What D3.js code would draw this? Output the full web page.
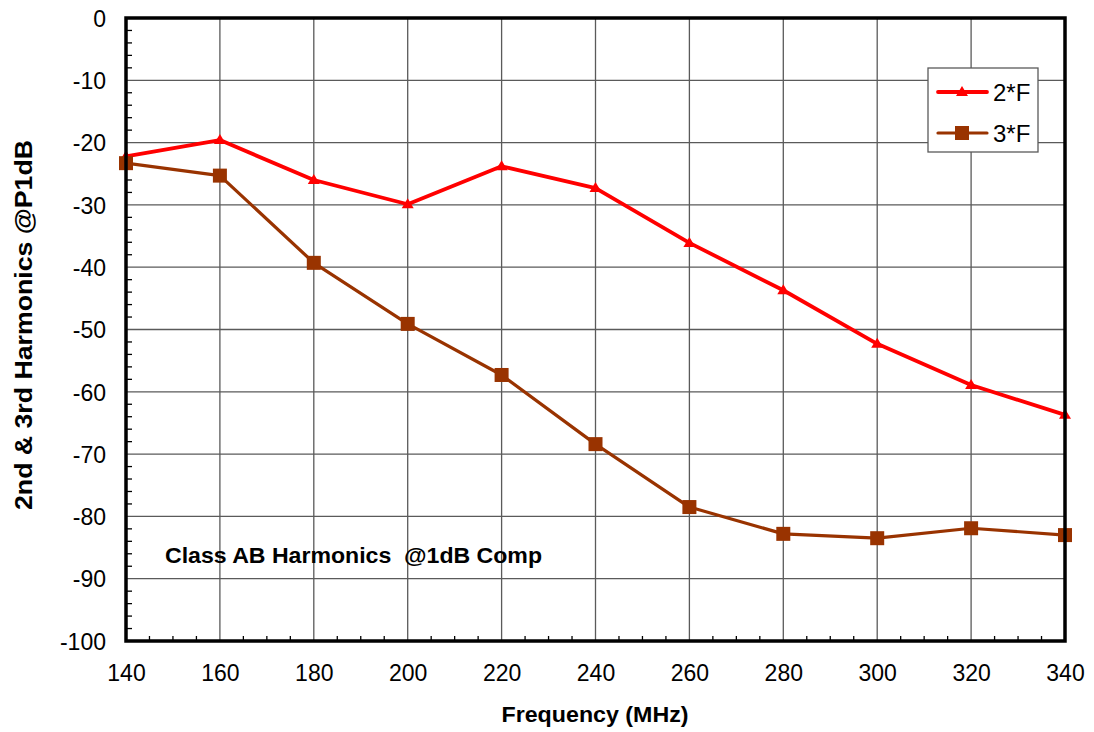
<!DOCTYPE html>
<html>
<head>
<meta charset="utf-8">
<script src="https://cdn.jsdelivr.net/npm/d3@7"></script>
<style>
  html, body { margin: 0; padding: 0; background: #fff; }
  svg { display: block; font-family: "Liberation Sans", Arial, sans-serif; }
</style>
</head>
<body>
<svg id="chart" width="1094" height="732"></svg>
<script>
// Harmonic levels at 1 dB compression versus frequency
const frequencies = [140, 160, 180, 200, 220, 240, 260, 280, 300, 320, 340];
const harmonic2 = [-22.2, -19.6, -26.0, -29.9, -23.8, -27.3, -36.1, -43.7, -52.3, -58.9, -63.7];
const harmonic3 = [-23.3, -25.3, -39.3, -49.1, -57.3, -68.4, -78.5, -82.8, -83.5, -81.9, -83.0];
const seriesNames = ["2*F", "3*F"];
const xTicks = [140, 160, 180, 200, 220, 240, 260, 280, 300, 320, 340];
const yTicks = [0, -10, -20, -30, -40, -50, -60, -70, -80, -90, -100];

const svg = d3.select("#chart");
const plot = { left: 126, top: 18, right: 1065, bottom: 641 };

const x = d3.scaleLinear().domain([140, 340]).range([plot.left, plot.right]);
const y = d3.scaleLinear().domain([-100, 0]).range([plot.bottom, plot.top]);

const gridColor = "#5a5a5a";
// Plain ASCII hyphen for negative labels
const plainNumber = d => String(d);

// Grid lines
const grid = svg.append("g");
grid.selectAll("line.vx").data(xTicks.slice(1, -1)).join("line")
  .attr("x1", d => x(d)).attr("x2", d => x(d))
  .attr("y1", plot.top).attr("y2", plot.bottom)
  .attr("stroke", gridColor).attr("stroke-width", 1.3);
grid.selectAll("line.hy").data(yTicks.slice(1, -1)).join("line")
  .attr("y1", d => y(d)).attr("y2", d => y(d))
  .attr("x1", plot.left).attr("x2", plot.right)
  .attr("stroke", gridColor).attr("stroke-width", 1.3);

// Minor ticks pointing into the plot
const yMinor = d3.range(-98, 0, 2).filter(v => v % 10 !== 0);
svg.append("g").selectAll("line").data(yMinor).join("line")
  .attr("x1", plot.left).attr("x2", plot.left + 6)
  .attr("y1", d => y(d)).attr("y2", d => y(d))
  .attr("stroke", "#000").attr("stroke-width", 1.3);
const xMinor = d3.range(145, 340, 5).filter(v => v % 20 !== 0);
svg.append("g").selectAll("line").data(xMinor).join("line")
  .attr("x1", d => x(d)).attr("x2", d => x(d))
  .attr("y1", plot.bottom).attr("y2", plot.bottom - 5)
  .attr("stroke", "#000").attr("stroke-width", 1.3);

// Axis tick labels
const yAxis = d3.axisLeft(y).tickValues(yTicks).tickSize(0).tickPadding(20).tickFormat(plainNumber);
const gy = svg.append("g").attr("transform", `translate(${plot.left},0)`).call(yAxis);
gy.select(".domain").remove();
gy.selectAll("text").attr("font-size", 23).attr("fill", "#000")
  .attr("font-family", "'Liberation Sans', Arial, sans-serif").attr("dy", "0.36em");

const xAxis = d3.axisBottom(x).tickValues(xTicks).tickSize(0).tickPadding(24).tickFormat(plainNumber);
const gx = svg.append("g").attr("transform", `translate(0,${plot.bottom})`).call(xAxis);
gx.select(".domain").remove();
gx.selectAll("text").attr("font-size", 23).attr("fill", "#000")
  .attr("font-family", "'Liberation Sans', Arial, sans-serif");

// Series
const series = [
  { name: seriesNames[0], values: harmonic2, color: "#ff0000", width: 3.8, marker: "triangle" },
  { name: seriesNames[1], values: harmonic3, color: "#993300", width: 3.2, marker: "square" }
];

const line = d3.line().x((d, i) => x(frequencies[i])).y(d => y(d));

function drawMarker(g, type, color) {
  if (type === "triangle") {
    g.append("path").attr("d", "M0,-6 L6,4 L-6,4 Z").attr("fill", color);
  } else {
    g.append("rect").attr("x", -7).attr("y", -7).attr("width", 14).attr("height", 14).attr("fill", color);
  }
}

series.forEach(s => {
  svg.append("path").datum(s.values)
    .attr("d", line).attr("fill", "none")
    .attr("stroke", s.color).attr("stroke-width", s.width)
    .attr("stroke-linejoin", "round");
  svg.append("g").selectAll("g").data(s.values).join("g")
    .attr("transform", (d, i) => `translate(${x(frequencies[i])},${y(d)})`)
    .each(function () { drawMarker(d3.select(this), s.marker, s.color); });
});

// Plot frame
svg.append("rect")
  .attr("x", plot.left).attr("y", plot.top)
  .attr("width", plot.right - plot.left).attr("height", plot.bottom - plot.top)
  .attr("fill", "none").attr("stroke", "#000").attr("stroke-width", 3.5);

// Legend
const legend = svg.append("g");
legend.append("rect").attr("x", 928).attr("y", 68).attr("width", 110).attr("height", 84)
  .attr("fill", "#fff").attr("stroke", gridColor).attr("stroke-width", 1.3);
series.forEach((s, i) => {
  const ly = 92 + i * 41;
  legend.append("line").attr("x1", 938).attr("x2", 987).attr("y1", ly).attr("y2", ly)
    .attr("stroke", s.color).attr("stroke-width", s.width).attr("stroke-linecap", "round");
  const m = legend.append("g").attr("transform", `translate(962,${ly})`);
  drawMarker(m, s.marker, s.color);
  legend.append("text").attr("x", 993).attr("y", ly + 9)
    .attr("font-size", 24).attr("fill", "#000").text(s.name);
});

// Annotation
svg.append("text").attr("x", 165).attr("y", 563)
  .attr("font-size", 22).attr("font-weight", "bold").attr("fill", "#000")
  .attr("textLength", 377).attr("lengthAdjust", "spacingAndGlyphs")
  .attr("xml:space", "preserve")
  .text("Class AB Harmonics  @1dB Comp");

// Axis titles
svg.append("text").attr("x", 595).attr("y", 722)
  .attr("text-anchor", "middle").attr("font-size", 22).attr("font-weight", "bold")
  .attr("textLength", 187).attr("lengthAdjust", "spacingAndGlyphs")
  .text("Frequency (MHz)");

svg.append("text")
  .attr("transform", "translate(32,325) rotate(-90)")
  .attr("text-anchor", "middle").attr("font-size", 23).attr("font-weight", "bold")
  .attr("textLength", 370).attr("lengthAdjust", "spacingAndGlyphs")
  .text("2nd & 3rd Harmonics @P1dB");
</script>
</body>
</html>
